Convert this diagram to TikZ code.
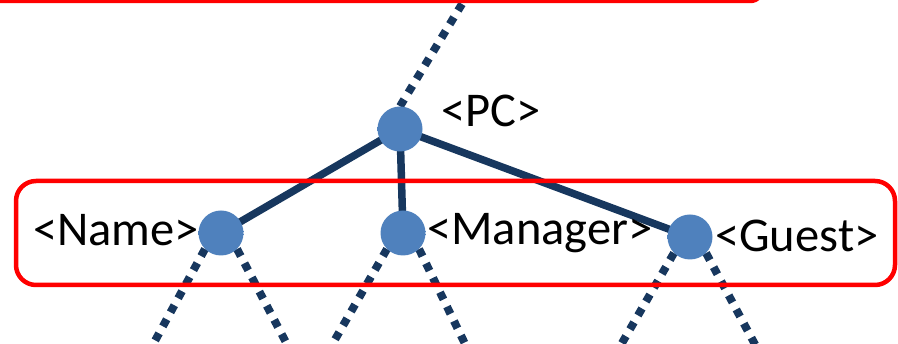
\documentclass[tikz,border=0pt]{standalone}
\usepackage{fontspec}
\setmainfont{Carlito}
\usetikzlibrary{positioning}

\definecolor{treenavy}{RGB}{23,55,94}
\definecolor{ballblue}{RGB}{79,129,189}
\pgfdeclareradialshading{ballshade}{\pgfpoint{-10bp}{10bp}}{color(0bp)=(ballblue); color(34bp)=(ballblue); color(50bp)=(ballblue!40!black)}

\tikzset{
    treeball/.style={circle, minimum size=45pt, inner sep=0pt, shade, shading=ballshade},
    treetag/.style={font=\fontsize{48.5}{52}\selectfont, inner sep=0pt},
    treeedge/.style={draw=treenavy, line width=7.5pt},
    treehidden/.style={draw=treenavy, line width=8pt, dash pattern=on 8pt off 8pt},
    groupbox/.style={draw=red, line width=4.5pt},
}

\begin{document}
\begin{tikzpicture}[x=1pt, y=1pt]
    % Define the layers
    \pgfdeclarelayer{0}
    \pgfdeclarelayer{1}
    \pgfsetlayers{0,1,main}

    \useasboundingbox ({0}, {0}) rectangle ({898}, {-344});
    \clip ({0}, {0}) rectangle ({898}, {-344});

    % Balls and tags
    \node[treeball] (pc) at ({400}, {-129}) {};
    \node[treeball] (nm) at ({221}, {-233}) {};
    \node[treeball] (mg) at ({403}, {-233}) {};
    \node[treeball] (gs) at ({690}, {-237}) {};
    \node[treetag, anchor=base west] (pctag) at ({441}, {-127}) {<PC>};
    \node[treetag, anchor=base east] (nmtag) at ({199}, {-246}) {<Name>};
    \node[treetag, anchor=base west] (mgtag) at ({427}, {-245}) {<Manager>};
    \node[treetag, anchor=base west] (gstag) at ({715}, {-252}) {<Guest>};

    % Loose ends of the dotted lines
    \coordinate (up) at ({462}, {-4});
    \coordinate (nmL) at ({150}, {-350});
    \coordinate (nmR) at ({290}, {-350});
    \coordinate (mgL) at ({329}, {-350});
    \coordinate (mgR) at ({468}, {-350});
    \coordinate (gsL) at ({618}, {-350});
    \coordinate (gsR) at ({758}, {-350});

    % Layer 0
    \begin{pgfonlayer}{0}
        \draw[treeedge] (pc.center) -- (nm.center);
        \draw[treeedge] (pc.center) -- (mg.center);
        \draw[treeedge] (pc.center) -- (gs.center);
        \draw[treehidden] (pc.north) -- (up);
        \draw[treehidden] (nm.225) -- (nmL);
        \draw[treehidden] (nm.-45) -- (nmR);
        \draw[treehidden] (mg.225) -- (mgL);
        \draw[treehidden] (mg.-45) -- (mgR);
        \draw[treehidden] (gs.225) -- (gsL);
        \draw[treehidden] (gs.-45) -- (gsR);
    \end{pgfonlayer}{0}

    % Layer 1
    \begin{pgfonlayer}{1}
        \draw[groupbox, rounded corners=14pt] ({-30}, {60}) rectangle ({764}, {-1});
        \draw[groupbox, rounded corners=20pt] ({16}, {-181}) rectangle ({895}, {-285});
    \end{pgfonlayer}{1}
\end{tikzpicture}
\end{document}
